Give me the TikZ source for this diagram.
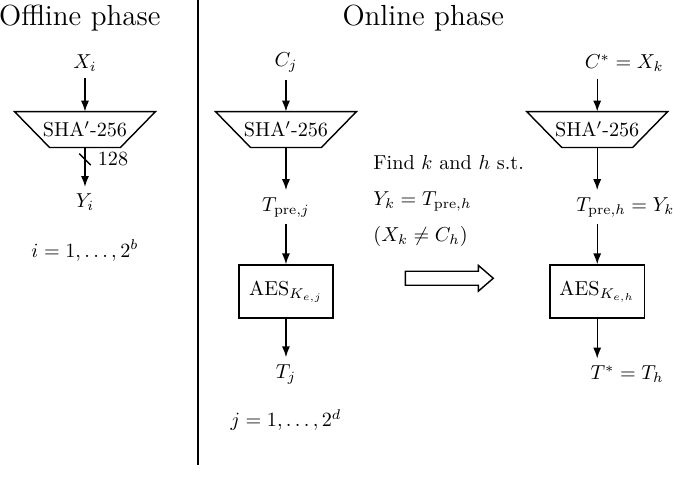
\documentclass[tikz,border=0pt]{standalone}
\usepackage{amsmath, amssymb}
\usepackage{tikz}
\usetikzlibrary{calc, positioning, arrows.meta}

\tikzset{
    hashbox/.style={minimum width=2.44cm, minimum height=0.61cm, inner sep=0pt},
    aesbox/.style={draw, line width=0.7pt, minimum width=1.64cm, minimum height=0.92cm},
    flow/.style={-{Latex[length=1.9mm, width=1.4mm]}, line width=0.7pt},
}

\begin{document}
\begin{tikzpicture}[>=latex]
    \useasboundingbox (0,0) rectangle (11.72,8.466);

    % Tiêu đề hai pha
    \node (offline) at (1.39,8.15) {\Large Offline phase};
    \node (online) at (7.37,8.15) {\Large Online phase};
    \draw[line width=0.7pt] (3.45,8.466) -- (3.45,0.366);

    % Pha offline
    \node (Xi) at (1.48,7.37) {$X_i$};
    \node[hashbox] (sha1) at (1.48,6.21) {SHA$'$-256};
    \node (Yi) at (1.48,4.94) {$Y_i$};
    \node (rangei) at (1.48,4.10) {$i=1,\ldots,2^b$};
    \draw[flow] (Xi) -- (sha1);
    \draw[flow] (sha1) -- coordinate[pos=0.3] (cut) (Yi);
    \draw[line width=0.7pt] ($(cut)+(-0.1,0.1)$) -- ($(cut)+(0.1,-0.1)$);
    \node[right=1mm of cut] (bits) {128};

    % Pha online: nhánh j
    \node (Cj) at (4.98,7.37) {$C_j$};
    \node[hashbox] (sha2) at (4.98,6.21) {SHA$'$-256};
    \node (Tprej) at (4.98,4.86) {$T_{\text{pre},j}$};
    \node[aesbox] (aes1) at (4.98,3.39) {AES$_{K_{e,j}}$};
    \node (Tj) at (4.98,1.95) {$T_j$};
    \node (rangej) at (4.98,1.15) {$j=1,\ldots,2^d$};
    \draw[flow] (Cj) -- (sha2);
    \draw[flow] (sha2) -- (Tprej);
    \draw[flow] (Tprej) -- (aes1);
    \draw[flow] (aes1) -- (Tj);

    % Điều kiện va chạm
    \node[anchor=west] (find) at (6.38,5.63) {Find $k$ and $h$ s.t.};
    \node[anchor=west] (cond) at (6.38,4.95) {$Y_k=T_{\text{pre},h}$};
    \node[anchor=west] (excl) at (6.38,4.34) {$(X_k\neq C_h)$};
    \draw[line width=0.7pt] (7.06,3.498) -- (8.33,3.498) -- (8.33,3.395) -- (8.59,3.62)
        -- (8.33,3.845) -- (8.33,3.742) -- (7.06,3.742) -- cycle;

    % Pha online: nhánh h
    \node (Cstar) at (10.87,7.37) {$C^*=X_k$};
    \node[hashbox] (sha3) at (10.40,6.21) {SHA$'$-256};
    \node (Tpreh) at (10.89,4.86) {$T_{\text{pre},h}=Y_k$};
    \node[aesbox] (aes2) at (10.40,3.39) {AES$_{K_{e,h}}$};
    \node (Tstar) at (10.92,1.95) {$T^*=T_h$};
    \draw[flow] (Cstar.south -| sha3) -- (sha3);
    \draw[flow] (sha3) -- (Tpreh.north -| sha3);
    \draw[flow] (Tpreh.south -| sha3) -- (aes2);
    \draw[flow] (aes2) -- (Tstar.north -| sha3);

    % Vẽ các khối băm hình thang
    \foreach \n in {sha1,sha2,sha3} {
        \draw[line width=0.7pt] (\n.north west) -- (\n.north east)
            -- ([xshift=-6.1mm]\n.south east) -- ([xshift=6.1mm]\n.south west) -- cycle;
    }

\end{tikzpicture}
\end{document}
